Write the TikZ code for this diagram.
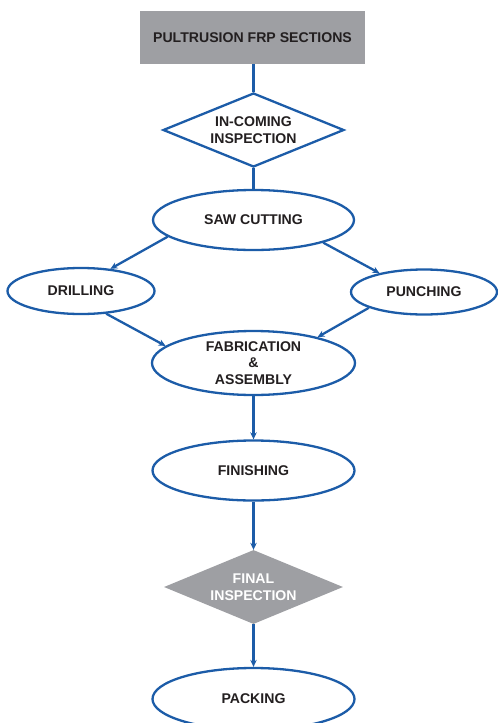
\documentclass[tikz,border=0pt]{standalone}
\usepackage{fontspec}
\setmainfont{Liberation Sans}
\usetikzlibrary{shapes.geometric,arrows.meta}
\definecolor{lineblue}{RGB}{28,92,168}
\definecolor{boxgray}{RGB}{158,159,163}
\definecolor{txt}{RGB}{35,31,32}
\tikzset{
  every node/.style={font=\fontsize{14.1}{17}\selectfont\bfseries, text=txt, align=center},
  oval/.style={ellipse, draw=lineblue, line width=2.3pt, fill=white, inner sep=0pt},
  dia/.style={diamond, inner sep=0pt, aspect=2.45},
  conn/.style={draw=lineblue, line width=2.3pt},
  arr/.style={conn, -{Stealth[length=7pt,width=6.5pt]}}
}
\begin{document}
\begin{tikzpicture}[x=1pt,y=-1pt]
\useasboundingbox (0,0) rectangle (498,723);
\node[rectangle, fill=boxgray, minimum width=225pt, minimum height=53pt, inner sep=0pt] (src) at (252.5,37.5) {PULTRUSION FRP SECTIONS};
\node[dia, draw=lineblue, line width=2.3pt, fill=white, minimum width=181pt, minimum height=74pt] (inc) at (253.5,130) {IN-COMING\\INSPECTION};
\node[oval, minimum width=201pt, minimum height=60pt] (saw) at (253.5,220) {SAW CUTTING};
\node[oval, minimum width=147pt, minimum height=46pt] (dri) at (81,291) {DRILLING};
\node[oval, minimum width=146pt, minimum height=45pt] (pun) at (424,292) {PUNCHING};
\node[oval, minimum width=203pt, minimum height=64pt] (fab) at (253.5,363) {FABRICATION\\[-0.5pt]\&\\[-0.5pt]ASSEMBLY};
\node[oval, minimum width=202pt, minimum height=60pt] (fin) at (253.5,470.5) {FINISHING};
\node[dia, fill=boxgray, text=white, minimum width=179pt, minimum height=74pt] (fins) at (253.5,587) {FINAL\\INSPECTION};
\node[oval, minimum width=202pt, minimum height=62pt] (pack) at (253.5,699) {PACKING};

\draw[conn] (inc.north |- src.south) -- (inc.north);
\draw[conn] (inc.south) -- (saw.north);
\draw[arr] (saw.191) -- (dri.37);
\draw[arr] (saw.342) -- (pun.157);
\draw[arr] (dri.318) -- (fab.169);
\draw[arr] (pun.196) -- (fab.22);
\draw[arr] (fab.south) -- (fin.north);
\draw[arr] (fin.south) -- (fins.north);
\draw[arr] (fins.south) -- (pack.north);
\end{tikzpicture}
\end{document}
